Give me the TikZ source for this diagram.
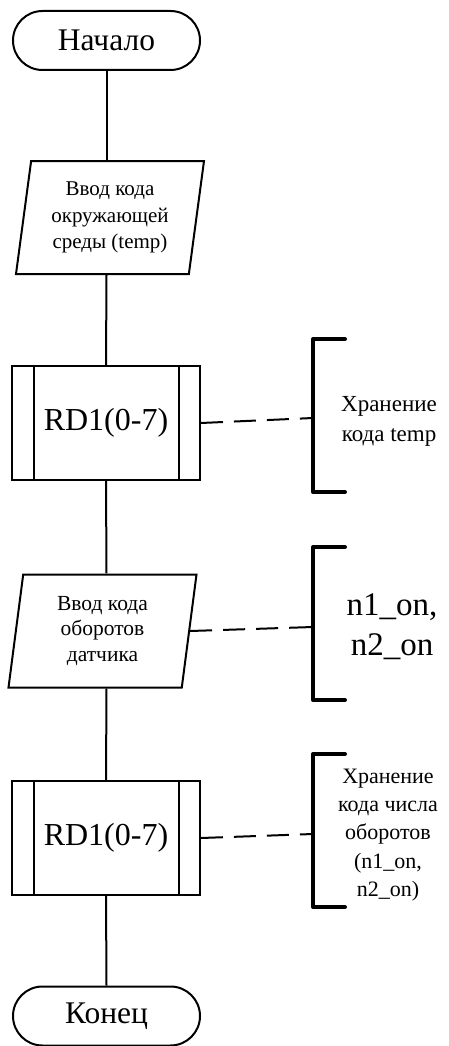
\documentclass[tikz,border=0pt]{standalone}
\usepackage{fontspec}
\setmainfont{Liberation Serif}
\usetikzlibrary{shapes.misc,shapes.geometric}
\begin{document}
\begin{tikzpicture}[x=1pt,y=-1pt,
  flow/.style={line width=2pt},
  term/.style={draw,line width=2pt,rounded rectangle,minimum width=187pt,minimum height=59pt,inner sep=0pt,font=\fontsize{31.5}{36}\selectfont},
  iobox/.style={draw,line width=2pt,trapezium,trapezium left angle=78,trapezium right angle=102,trapezium stretches body,minimum width=188pt,minimum height=113pt,inner sep=0pt,align=center,font=\fontsize{21}{26.5}\selectfont},
  procbox/.style={draw,line width=2pt,rectangle,minimum width=188pt,minimum height=114pt,inner sep=0pt,font=\fontsize{32}{36}\selectfont},
  bracket/.style={line width=4pt,line cap=round,line join=round},
  note/.style={align=center,inner sep=0pt,font=\fontsize{23}{30}\selectfont},
  dline/.style={line width=2pt,dash pattern=on 22pt off 11pt}
]
\useasboundingbox (0,0) rectangle (449,1046);
\node[term] (start) at (106.5,40.5) {Начало};
\node[iobox] (in1) at (110,217.5) {Ввод кода\\окружающей\\среды (temp)};
\node[procbox] (rd1) at (106,423) {RD1(0-7)};
\node[iobox,font=\fontsize{21.5}{25.5}\selectfont] (in2) at (102.5,631) {Ввод кода\\оборотов\\датчика};
\node[procbox] (rd2) at (106,838) {RD1(0-7)};
\node[term] (end) at (106.5,1016) {Конец};

\foreach \b in {rd1,rd2}{
  \draw[flow] ([xshift=23pt]\b.north west) -- ([xshift=23pt]\b.south west);
  \draw[flow] ([xshift=-22pt]\b.north east) -- ([xshift=-22pt]\b.south east);
}

\draw[flow] (start.south) -- (start.south |- in1.north);
\draw[flow] (start.south |- in1.south) -- (rd1.north);
\draw[flow] (rd1.south) -- (start.south |- in2.north);
\draw[flow] (start.south |- in2.south) -- (rd2.north);
\draw[flow] (rd2.south) -- (end.north);

% brackets
\coordinate (b1) at (313,418);
\coordinate (b2) at (313,627);
\coordinate (b3) at (313,834);
\draw[bracket] (345,339) -- (313,339) -- (313,492) -- (345,492);
\draw[bracket] (345,547) -- (313,547) -- (313,700) -- (345,700);
\draw[bracket] (345,754) -- (313,754) -- (313,907) -- (345,907);

\node[note] (t1) at (389,421) {Хранение\\кода temp};
\node[note,font=\fontsize{33}{40}\selectfont] (t2) at (392,627) {n1\_on,\\n2\_on};
\node[note,font=\fontsize{22}{28.3}\selectfont] (t3) at (388,835) {Хранение\\кода числа\\оборотов\\(n1\_on,\\n2\_on)};

\draw[dline] (rd1.east) -- (b1);
\draw[dline] (in2.east) -- (b2);
\draw[dline] (rd2.east) -- (b3);
\end{tikzpicture}
\end{document}
